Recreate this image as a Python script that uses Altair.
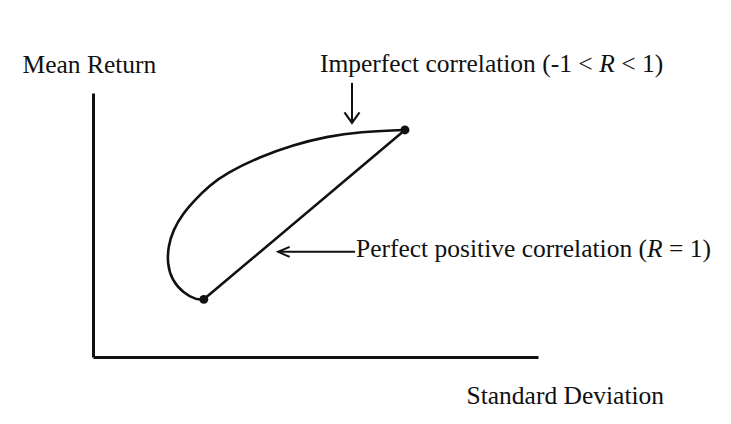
import altair as alt
import pandas as pd

# Imperfect-correlation curve (standard deviation, mean return)
curve_sd = [7.01, 6.00, 5.25, 4.50, 3.75, 3.00, 2.63, 2.25, 2.03, 1.80, 1.69, 1.67, 1.77, 2.03, 2.32, 2.49]
curve_mean = [5.16, 5.12, 5.01, 4.82, 4.55, 4.18, 3.91, 3.53, 3.27, 2.89, 2.51, 2.13, 1.75, 1.45, 1.30, 1.31]

# Perfect positive correlation: straight line between the two assets
line_sd = [2.49, 7.01]
line_mean = [1.31, 5.16]

# Annotation anchors
label_texts = ["Imperfect correlation (-1 <", "Perfect positive correlation ("]
label_italic = ["R", "R"]
label_tail = ["< 1)", "= 1)"]
label_sd = [5.10, 5.91]
label_mean = [6.48, 2.27]

# Arrows: shaft start and tip
arrow_sd = [5.82, 5.89]
arrow_mean = [6.23, 2.39]
arrow_tip_sd = [5.82, 4.16]
arrow_tip_mean = [5.32, 2.39]

FONT = "Liberation Serif"
FS = 25.5
INK = "#111111"

xs = alt.Scale(domain=[0, 10], nice=False, zero=False)
ys = alt.Scale(domain=[0, 6], nice=False, zero=False)

common_axis = dict(ticks=False, labels=False, grid=False, domainColor=INK, domainWidth=3,
                   titleFont=FONT, titleFontSize=FS, titleFontWeight="normal", titleColor=INK,
                   titleAngle=0, titleAlign="left", titleBaseline="alphabetic")
xaxis = alt.Axis(title="Standard Deviation", titleX=373, titleY=46, **common_axis)
yaxis = alt.Axis(title="Mean Return", titleX=-71, titleY=-21, **common_axis)

X = alt.X("sd:Q", scale=xs, axis=xaxis)
Y = alt.Y("mean:Q", scale=ys, axis=yaxis)

curve_df = pd.DataFrame({"sd": curve_sd, "mean": curve_mean, "order": list(range(len(curve_sd)))})
line_df = pd.DataFrame({"sd": line_sd, "mean": line_mean})

curve = alt.Chart(curve_df).mark_line(color=INK, strokeWidth=2.6, interpolate="basis").encode(
    x=X, y=Y, order="order:Q")
straight = alt.Chart(line_df).mark_line(color=INK, strokeWidth=2.6).encode(x=X, y=Y)
dots = alt.Chart(line_df).mark_circle(color=INK, size=80, opacity=1).encode(x=X, y=Y)

lab_df = pd.DataFrame({"sd": label_sd, "mean": label_mean, "t1": label_texts,
                       "t2": label_italic, "t3": label_tail})
txt_kw = dict(font=FONT, fontSize=FS, color=INK, align="left", baseline="alphabetic")
t1 = alt.Chart(lab_df).mark_text(**txt_kw).encode(x=X, y=Y, text="t1:N")
t2a = alt.Chart(lab_df.iloc[[0]]).mark_text(dx=279.2, fontStyle="italic", **txt_kw).encode(x=X, y=Y, text="t2:N")
t3a = alt.Chart(lab_df.iloc[[0]]).mark_text(dx=301.2, **txt_kw).encode(x=X, y=Y, text="t3:N")
t2b = alt.Chart(lab_df.iloc[[1]]).mark_text(dx=291.1, fontStyle="italic", **txt_kw).encode(x=X, y=Y, text="t2:N")
t3b = alt.Chart(lab_df.iloc[[1]]).mark_text(dx=313.0, **txt_kw).encode(x=X, y=Y, text="t3:N")

arr_df = pd.DataFrame({"sd": arrow_sd, "mean": arrow_mean,
                       "sd2": arrow_tip_sd, "mean2": arrow_tip_mean})
shafts = alt.Chart(arr_df).mark_rule(color=INK, strokeWidth=2).encode(
    x=X, y=Y, x2="sd2:Q", y2="mean2:Q")

head_df = pd.DataFrame({"sd": arrow_tip_sd, "mean": arrow_tip_mean})
head_down = alt.Chart(head_df.iloc[[0]]).mark_point(
    shape="M-1,-1.4L0,0L1,-1.4", size=225, filled=False, color=INK, strokeWidth=2.2, opacity=1
).encode(x=X, y=Y)
head_left = alt.Chart(head_df.iloc[[1]]).mark_point(
    shape="M2.3,-1L0,0L2.3,1", size=100, filled=False, color=INK, strokeWidth=2, opacity=1
).encode(x=X, y=Y)

chart = alt.layer(curve, straight, dots, shafts, head_down, head_left, t1, t2a, t3a, t2b, t3b).properties(
    width=445, height=264,
    autosize=alt.AutoSizeParams(type="none"),
    padding={"left": 93, "top": 93, "right": 193, "bottom": 67},
    background="white",
).configure_view(strokeWidth=0)

chart.save("out.html", embed_options={"renderer": "svg", "actions": False})
